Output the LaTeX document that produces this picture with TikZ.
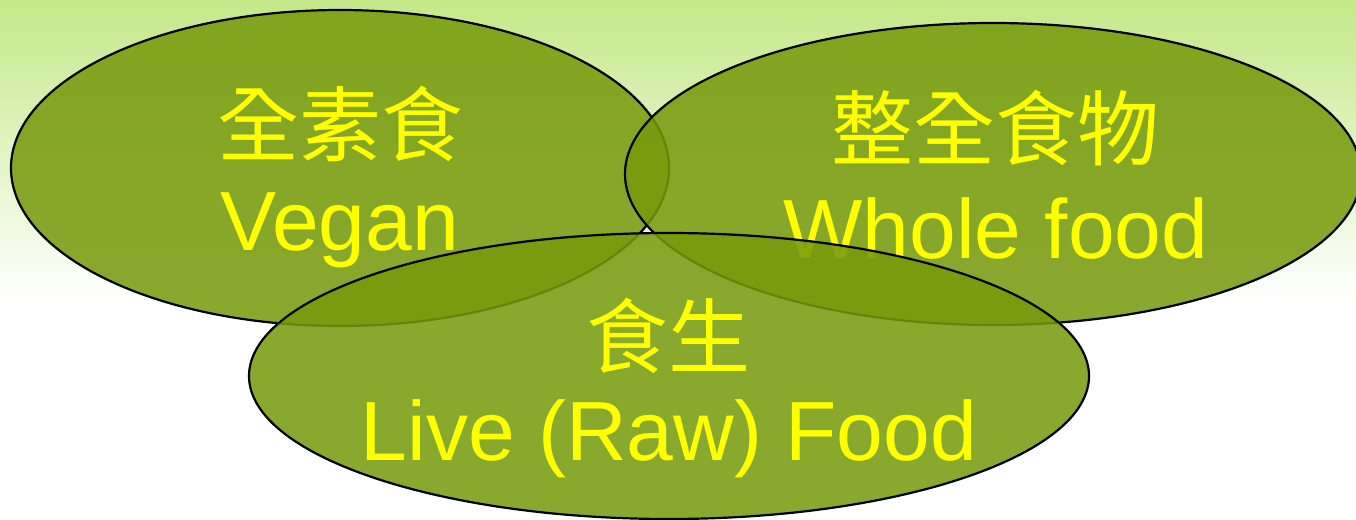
\documentclass[tikz,border=0pt]{standalone}
\usepackage{fontspec}
\setmainfont{Liberation Sans}
\newfontfamily\cjk{Noto Sans CJK TC}
\usetikzlibrary{shapes.geometric}
\definecolor{bgtop}{RGB}{196,232,136}
\definecolor{olive}{RGB}{118,154,12}
\definecolor{txt}{RGB}{255,255,0}
\tikzset{
  blob/.style={ellipse, draw=black, line width=2.2pt, fill=olive, fill opacity=0.86, draw opacity=1, inner sep=0pt},
  cjklabel/.style={text=txt, text opacity=1, inner sep=0pt, font=\cjk\fontsize{82}{82}\selectfont},
  latlabel/.style={text=txt, text opacity=1, inner sep=0pt, anchor=base, font=\fontsize{84}{84}\selectfont}
}
\begin{document}
\begin{tikzpicture}[x=1pt,y=-1pt]
\useasboundingbox (0,0) rectangle (1356,519);
\clip (0,0) rectangle (1356,519);
\fill[white] (0,0) rectangle (1356,519);
\shade[top color=bgtop, bottom color=white] (0,0) rectangle (1356,300);
% Vegan
\node[blob, minimum width=658pt, minimum height=316pt] (vegan) at (340,168) {};
\node[cjklabel] (veganzh) at (340,124) {全素食};
\node[latlabel] (veganen) at (340,250) {Vegan};
% Whole food
\node[blob, minimum width=736pt, minimum height=302pt] (whole) at (993,174) {};
\node[cjklabel] (wholezh) at (995,128) {整全食物};
\node[latlabel] (wholeen) at (996,258) {Whole food};
% Live food
\node[blob, minimum width=840pt, minimum height=286pt] (live) at (669,376) {};
\node[cjklabel] (livezh) at (668,336) {食生};
\node[latlabel] (liveen) at (669,460) {Live (Raw) Food};
\end{tikzpicture}
\end{document}
